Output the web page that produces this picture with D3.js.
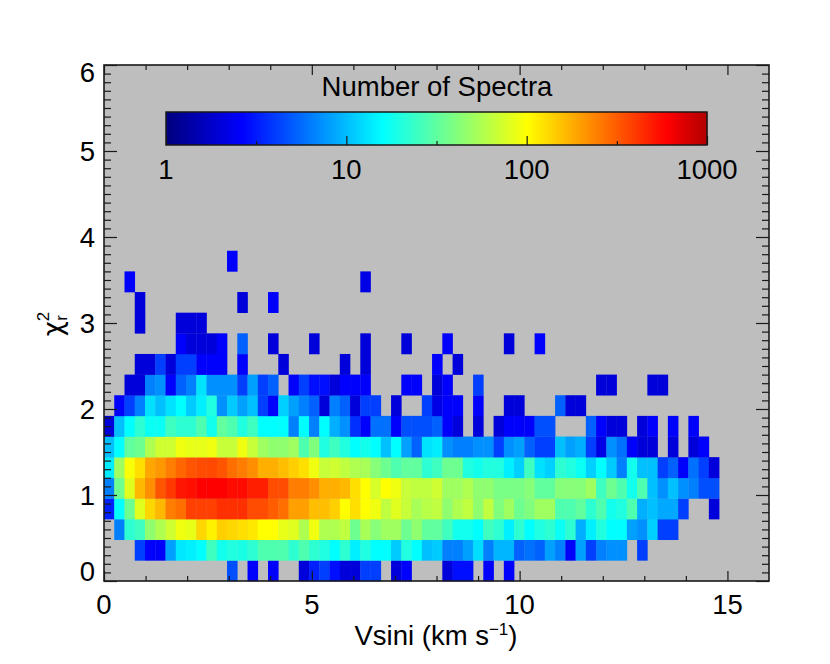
<!DOCTYPE html>
<html>
<head>
<meta charset="utf-8">
<script src="https://d3js.org/d3.v7.min.js"></script>
<style>
  html, body { margin: 0; background: #fff; }
  svg { display: block; }
  text { font-family: "Liberation Sans", Arial, sans-serif; fill: #000; }
  .domain { display: none; }
</style>
</head>
<body>
<div id="chart"></div>
<script>
// counts per cell, bottom row first, 0 = no spectra
const row0 = [0,0,0,0,0,0,0,0,0,0, 0,0,4.6,0,2.6,0,2.6,0,0,2, 3.3,4.1,2.9,2,2,4.1,4.1,0,2,2.6, 0,0,0,2,2.9,2.9,0,2.6,0,2.6, 0,0,0,0,0,0,0,0,0,0, 0,0,0,0,0,0,0,0,0,0]
const row1 = [0,0,0,4.1,2.6,2.6,8.1,13.5,14.3,15.8, 25,18,20,19,22,28,28,28,22,28, 22,20,15.8,22,14.3,20,15.8,15.8,11,20, 15.8,10.2,11,6.5,6.5,8.1,12.5,6.5,9.5,9.5, 5.2,5.8,5.2,8.1,6.5,2.6,8.1,4.1,6.5,7.25, 7.25,0,4.1,0,0,0,0,0,0,0]
const row2 = [0,6.5,22,25,45,56,71,90,85,133, 110,140,133,125,118,100,100,85,80,56, 90,56,56,63,35,53,42,50,50,35, 45,32,32,25,18,18,15.8,25,22,14.3, 22,15.8,20,22,17,22,9,14.3,20,15.8, 15.8,8.1,7.25,11.4,4.1,4.1,0,0,0,0]
const row3 = [3.3,15.8,35,80,133,165,248,275,380,380, 380,425,425,425,350,350,310,275,196,196, 157,157,140,100,125,100,90,63,80,67, 53,60,63,45,56,63,45,63,40,50, 35,40,50,50,28,28,32,22,28,18, 20,28,9,10.2,8.6,8.6,4.1,0,0,2]
const row4 = [6.5,35,80,165,219,330,400,510,535,600, 600,600,550,550,480,480,350,350,248,248, 219,175,175,165,125,100,75,100,90,67, 63,63,71,50,50,56,45,45,38,38, 38,42,32,32,42,42,42,50,25,35, 28,18,28,10.2,7.25,10.2,7.25,6.5,4.6,4.6]
const row5 = [14,50,95,125,186,206,248,292,330,350, 360,330,275,248,219,175,175,157,140,125, 90,67,71,63,56,53,42,35,28,32, 32,22,25,35,35,20,18,20,20,14.3, 11.4,25,12.8,11.4,22,20,17,11.4,15.8,11, 6.5,18,10.2,10.2,4.1,5.2,2.6,5.8,4.1,2]
const row6 = [10.2,15.8,32,35,56,71,71,90,85,85, 90,67,67,90,67,50,45,45,50,28, 40,20,25,20,15.8,18,15.8,10.2,15.8,8.1, 5.2,13,14,7.25,6.5,6.5,7.25,7.25,4.1,7.25, 8.1,5.2,4.1,4.1,10.2,8.1,9,4.1,2.2,7.25, 5.8,2.6,2,2,0,2,0,2,2.6,0]
const row7 = [2,10.2,15.8,22,17,17,25,22,22,28, 18,32,28,20,25,15.8,15.8,15.8,6.5,15.8, 6.5,15.8,9,7.25,3.7,2.6,5.8,5.8,2.6,4.6, 4.6,4.6,5.2,2.6,2,0,2,0,2,2.6, 2.6,2.6,4.6,4.6,0,0,0,5.2,2.6,2, 2,0,2,2.6,0,2.6,0,2.6,0,0]
const row8 = [0,2.6,4.1,6.5,12.8,10.2,12.8,15.8,11,14.3, 20,7.25,11,8.1,10.2,4.1,2.6,11.4,8.1,6.5, 5.2,2,6.5,5.2,2,4.1,4.1,0,2,0, 0,4.1,2.2,2.6,2.6,0,2.6,0,0,2, 2,0,0,0,5.2,2,2,0,0,0, 0,0,0,0,0,0,0,0,0,0]
const row9 = [0,0,2,2,6.5,7.25,2.6,5.2,6.5,13, 7.25,7.25,7.25,4.1,8.1,4.1,5.2,0,2.6,4.1, 2.9,2.9,2,2.6,2.6,2.6,0,0,0,2.6, 2.6,0,2,2.6,0,0,4.1,0,0,0, 0,0,0,0,0,0,0,0,2,2, 0,0,0,2,2,0,0,0,0,0]
const row10 = [0,0,0,2,2,4.1,2,4.1,4.1,2.6, 2.6,2.6,0,2.6,0,0,0,2,0,0, 0,0,0,2,0,2,0,0,0,0, 0,0,2.6,0,2,0,0,0,0,0, 0,0,0,0,0,0,0,0,0,0, 0,0,0,0,0,0,0,0,0,0]
const row11 = [0,0,0,0,0,0,0,2.6,2,2, 2,2.6,0,5.2,0,0,2,0,0,0, 2,0,0,0,0,2,0,0,0,2, 0,0,0,2.6,0,0,0,0,0,2, 0,0,2.6,0,0,0,0,0,0,0, 0,0,0,0,0,0,0,0,0,0]
const row12 = [0,0,0,2,0,0,0,2,2,2, 0,0,0,0,0,0,0,0,0,0, 0,0,0,0,0,0,0,0,0,0, 0,0,0,0,0,0,0,0,0,0, 0,0,0,0,0,0,0,0,0,0, 0,0,0,0,0,0,0,0,0,0]
const row13 = [0,0,0,2,0,0,0,0,0,0, 0,0,0,2,0,0,2.6,0,0,0, 0,0,0,0,0,0,0,0,0,0, 0,0,0,0,0,0,0,0,0,0, 0,0,0,0,0,0,0,0,0,0, 0,0,0,0,0,0,0,0,0,0]
const row14 = [0,0,2.6,0,0,0,0,0,0,0, 0,0,0,0,0,0,0,0,0,0, 0,0,0,0,0,2.2,0,0,0,0, 0,0,0,0,0,0,0,0,0,0, 0,0,0,0,0,0,0,0,0,0, 0,0,0,0,0,0,0,0,0,0]
const row15 = [0,0,0,0,0,0,0,0,0,0, 0,0,2.6,0,0,0,0,0,0,0, 0,0,0,0,0,0,0,0,0,0, 0,0,0,0,0,0,0,0,0,0, 0,0,0,0,0,0,0,0,0,0, 0,0,0,0,0,0,0,0,0,0]
const rows = [row0,row1,row2,row3,row4,row5,row6,row7,row8,row9,row10,row11,row12,row13,row14,row15]

const binWidth = 14.8 / 60
const binHeight = 0.24

const xMajor = [0, 5, 10, 15]
const xMinor = [1, 2, 3, 4, 6, 7, 8, 9, 11, 12, 13, 14]
const yMajor = [0, 1, 2, 3, 4, 5, 6]
const yMinor = d3.range(0, 61).filter(d => d % 10 !== 0).map(d => d / 10)
const barMajor = [1, 10, 100, 1000]
const barMinor = [Math.sqrt(10), Math.sqrt(1000), Math.sqrt(100000)]

const width = 830
const height = 664
const inkColor = '#1a1a1a'
const fontSize = 27.5

const xScale = d3.scaleLinear().domain([0, 16]).range([104, 769])
const yScale = d3.scaleLinear().domain([0, 6]).range([581, 65])
const barScale = d3.scaleLog().domain([1, 1000]).range([166, 707])

// jet style colour table, position along the bar -> colour
const jet = d3.scaleLinear()
	.domain([0, 0.14, 0.40, 0.667, 0.925, 1])
	.range(['#00007f', '#0000ff', '#00ffff', '#ffff00', '#ff0000', '#b00000'])
const logPos = d3.scaleLog().domain([1, 1000]).range([0, 1])
const colorOf = d => jet(logPos(d))

const svg = d3.select('#chart').append('svg')
	.attr('width', width)
	.attr('height', height)

svg.append('rect')
	.attr('x', xScale(0))
	.attr('y', yScale(6))
	.attr('width', xScale(16) - xScale(0))
	.attr('height', yScale(0) - yScale(6))
	.attr('fill', '#bebebe')

//Cells
const cells = rows.flatMap((row, r) => row.map((v, c) => ({ r, c, v }))).filter(d => d.v > 0)

svg.append('g')
	.selectAll('rect')
	.data(cells)
	.enter()
	.append('rect')
		.attr('x', d => xScale(d.c * binWidth))
		.attr('y', d => yScale((d.r + 1) * binHeight))
		.attr('width', xScale(binWidth) - xScale(0) + 0.3)
		.attr('height', yScale(0) - yScale(binHeight) + 0.3)
		.attr('fill', d => colorOf(d.v))

//Axis ticks on all four sides
const drawTicks = (axis, values, size, y0, x0) => {
	svg.append('g')
		.attr('transform', `translate(${x0}, ${y0})`)
		.call(axis.tickValues(values).tickSize(size).tickFormat(''))
		.selectAll('line')
			.attr('stroke', inkColor)
			.attr('stroke-width', 1.2)
}

drawTicks(d3.axisTop(xScale), xMajor, 10, yScale(0), 0)
drawTicks(d3.axisTop(xScale), xMinor, 5, yScale(0), 0)
drawTicks(d3.axisBottom(xScale), xMajor, 10, yScale(6), 0)
drawTicks(d3.axisBottom(xScale), xMinor, 5, yScale(6), 0)
drawTicks(d3.axisRight(yScale), yMajor, 13, 0, xScale(0))
drawTicks(d3.axisRight(yScale), yMinor, 7, 0, xScale(0))
drawTicks(d3.axisLeft(yScale), yMajor, 13, 0, xScale(16))
drawTicks(d3.axisLeft(yScale), yMinor, 7, 0, xScale(16))

svg.append('rect')
	.attr('x', xScale(0))
	.attr('y', yScale(6))
	.attr('width', xScale(16) - xScale(0))
	.attr('height', yScale(0) - yScale(6))
	.attr('fill', 'none')
	.attr('stroke', inkColor)
	.attr('stroke-width', 1.6)

//Tick labels
svg.append('g')
	.selectAll('text')
	.data(xMajor)
	.enter()
	.append('text')
		.attr('x', d => xScale(d))
		.attr('y', 614)
		.attr('text-anchor', 'middle')
		.attr('font-size', fontSize)
		.text(d => d)

const yLabelShift = d => d === 0 ? -10 : d === 6 ? 7 : 0

svg.append('g')
	.selectAll('text')
	.data(yMajor)
	.enter()
	.append('text')
		.attr('x', 95)
		.attr('y', d => yScale(d) + yLabelShift(d) + 10)
		.attr('text-anchor', 'end')
		.attr('font-size', fontSize)
		.text(d => d)

//Axis titles
const xTitle = svg.append('text')
	.attr('x', 436)
	.attr('y', 645)
	.attr('text-anchor', 'middle')
	.attr('font-size', fontSize)
xTitle.append('tspan').text('Vsini (km s')
xTitle.append('tspan').attr('font-size', 17).attr('dy', -10).text('\u22121')
xTitle.append('tspan').attr('dy', 10).text(')')

const yTitle = svg.append('text')
	.attr('transform', 'translate(62, 324) rotate(-90)')
	.attr('text-anchor', 'middle')
	.attr('font-size', fontSize)
yTitle.append('tspan').attr('font-family', 'DejaVu Sans').attr('font-size', 26).text('\u03c7')
yTitle.append('tspan').attr('font-size', 17).attr('dy', -13).text('2')
yTitle.append('tspan').attr('font-size', 17).attr('dy', 18).attr('dx', -9).text('r')

//Colour bar
const barSteps = d3.range(0, 541).map(i => barScale.invert(166 + i))

svg.append('g')
	.selectAll('rect')
	.data(barSteps)
	.enter()
	.append('rect')
		.attr('x', d => barScale(d))
		.attr('y', 112)
		.attr('width', 1.4)
		.attr('height', 33)
		.attr('fill', d => colorOf(d))

const drawBarTicks = (values, size) => {
	svg.append('g')
		.attr('transform', 'translate(0, 145)')
		.call(d3.axisTop(barScale).tickValues(values).tickSize(size).tickFormat(''))
		.selectAll('line')
			.attr('stroke', inkColor)
			.attr('stroke-width', 1.2)
}
drawBarTicks(barMajor, 9)
drawBarTicks(barMinor, 4)

svg.append('rect')
	.attr('x', 166)
	.attr('y', 112)
	.attr('width', 541)
	.attr('height', 33)
	.attr('fill', 'none')
	.attr('stroke', inkColor)
	.attr('stroke-width', 1.5)

svg.append('text')
	.attr('x', 437)
	.attr('y', 96)
	.attr('text-anchor', 'middle')
	.attr('font-size', fontSize)
	.text('Number of Spectra')

svg.append('g')
	.selectAll('text')
	.data(barMajor)
	.enter()
	.append('text')
		.attr('x', d => barScale(d))
		.attr('y', 179)
		.attr('text-anchor', 'middle')
		.attr('font-size', fontSize)
		.text(d => d)
</script>
</body>
</html>
